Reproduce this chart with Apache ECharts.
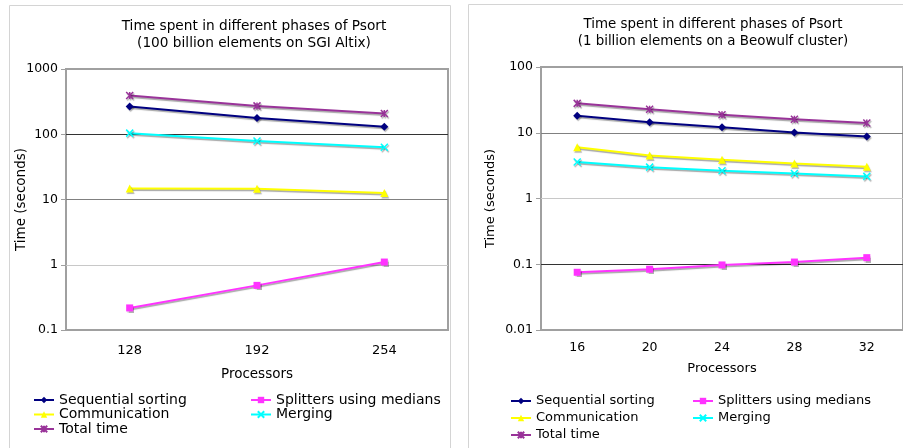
<!DOCTYPE html>
<html>
<head>
<meta charset="utf-8">
<script src="https://cdn.jsdelivr.net/npm/echarts@6/dist/echarts.min.js"></script>
<style>
html,body{margin:0;padding:0;background:#fff;}
#c{width:903px;height:448px;}
</style>
</head>
<body>
<div id="c"></div>
<script>
// ---- data ----
var procLeft = ['128', '192', '254'];
var sequentialLeft = [266, 177, 130];
var splittersLeft = [0.218, 0.483, 1.1];
var communicationLeft = [14.7, 14.6, 12.6];
var mergingLeft = [104, 79, 63];
var totalLeft = [392, 272, 208];
var yTicksLeft = ['0.1', '1', '10', '100', '1000'];

var procRight = ['16', '20', '24', '28', '32'];
var sequentialRight = [18.2, 14.5, 12.1, 10.1, 8.8];
var splittersRight = [0.0755, 0.084, 0.0976, 0.108, 0.126];
var communicationRight = [6.0, 4.5, 3.9, 3.4, 3.05];
var mergingRight = [3.6, 3.0, 2.65, 2.4, 2.17];
var totalRight = [28, 22.7, 18.8, 16, 14.1];
var yTicksRight = ['0.01', '0.1', '1', '10', '100'];

var seriesNames = ['Sequential sorting', 'Splitters using medians', 'Communication', 'Merging', 'Total time'];
var titleLeft = 'Time spent in different phases of Psort\n(100 billion elements on SGI Altix)';
var titleRight = 'Time spent in different phases of Psort\n(1 billion elements on a Beowulf cluster)';

// ---- styles ----
var FONT = 'DejaVu Sans';
var styles = {
  'Sequential sorting': {color: '#000080', symbol: 'diamond', size: 8, stroke: false},
  'Splitters using medians': {color: '#ff33ff', symbol: 'rect', size: 7, stroke: false},
  'Communication': {color: '#ffff00', symbol: 'triangle', size: 8, stroke: false},
  'Merging': {color: '#00ffff', symbol: 'path://M0,0L10,10M10,0L0,10', size: 7, stroke: true},
  'Total time': {color: '#993399', symbol: 'path://M0,0L10,10M10,0L0,10M5,0L5,10', size: 7, stroke: true}
};

function mkSeries(name, data, idx) {
  var s = styles[name];
  return {
    type: 'line', name: name, data: data,
    xAxisIndex: idx, yAxisIndex: idx,
    symbol: s.symbol, symbolSize: s.size,
    showSymbol: true, animation: false,
    lineStyle: {color: s.color, width: 2, shadowColor: 'rgba(0,0,0,0.35)', shadowOffsetX: 0.5, shadowOffsetY: 1.5, shadowBlur: 1},
    itemStyle: {color: s.color, borderColor: s.color, borderWidth: s.stroke ? 1.5 : 0,
      shadowColor: 'rgba(0,0,0,0.3)', shadowOffsetX: 1, shadowOffsetY: 1.5, shadowBlur: 1},
    emphasis: {disabled: true}
  };
}

function labelFrom(ticks) {
  return function (v) {
    for (var i = 0; i < ticks.length; i++) {
      if (Math.abs(Math.log10(v) - Math.log10(parseFloat(ticks[i]))) < 1e-6) return ticks[i];
    }
    return '';
  };
}

var leftData = [sequentialLeft, splittersLeft, communicationLeft, mergingLeft, totalLeft];
var rightData = [sequentialRight, splittersRight, communicationRight, mergingRight, totalRight];
var series = [];
seriesNames.forEach(function (n, i) { series.push(mkSeries(n, leftData[i], 0)); });
seriesNames.forEach(function (n, i) { series.push(mkSeries(n, rightData[i], 1)); });

function legend(left, top, names, fs, gap) {
  return {
    left: left, top: top, orient: 'vertical', data: names,
    itemWidth: 20, itemHeight: 8, itemGap: gap, padding: 0,
    selectedMode: false,
    textStyle: {fontFamily: FONT, fontSize: fs, color: '#000', lineHeight: 14},
    lineStyle: {shadowColor: 'rgba(0,0,0,0)', shadowBlur: 0, shadowOffsetX: 0, shadowOffsetY: 0},
    itemStyle: {shadowColor: 'rgba(0,0,0,0)', shadowBlur: 0, shadowOffsetX: 0, shadowOffsetY: 0}
  };
}

var chart = echarts.init(document.getElementById('c'), null, {renderer: 'canvas'});
chart.setOption({
  animation: false,
  backgroundColor: '#fff',
  graphic: [
    {type: 'rect', shape: {x: 9.5, y: 5.5, width: 441, height: 470}, style: {fill: 'none', stroke: '#d4d4d4', lineWidth: 1}, silent: true},
    {type: 'rect', shape: {x: 468.5, y: 4.5, width: 500, height: 470}, style: {fill: 'none', stroke: '#d4d4d4', lineWidth: 1}, silent: true}
  ],
  title: [
    {text: titleLeft, left: 254, top: 18, textAlign: 'center', padding: 0,
      textStyle: {fontFamily: FONT, fontSize: 13.7, fontWeight: 'normal', color: '#000', lineHeight: 17}},
    {text: titleRight, left: 713, top: 16, textAlign: 'center', padding: 0,
      textStyle: {fontFamily: FONT, fontSize: 13.4, fontWeight: 'normal', color: '#000', lineHeight: 17}}
  ],
  legend: [
    legend(33, 393, ['Sequential sorting', 'Communication', 'Total time'], 14, 0.5),
    legend(250, 393, ['Splitters using medians', 'Merging'], 14, 0.5),
    legend(510, 394, ['Sequential sorting', 'Communication', 'Total time'], 13, 3),
    legend(692, 394, ['Splitters using medians', 'Merging'], 13, 3)
  ],
  grid: [
    {left: 66, top: 69, width: 382, height: 261, show: true, borderColor: '#a0a0a0', borderWidth: 2, backgroundColor: 'transparent'},
    {left: 541, top: 67, width: 365, height: 263, show: true, borderColor: '#a0a0a0', borderWidth: 2, backgroundColor: 'transparent'}
  ],
  xAxis: [
    {type: 'category', gridIndex: 0, data: procLeft, boundaryGap: true,
      axisLine: {show: false}, axisTick: {show: false},
      axisLabel: {fontFamily: FONT, fontSize: 13, color: '#000', margin: 14},
      name: 'Processors', nameLocation: 'middle', nameGap: 37, nameMoveOverlap: false,
      nameTextStyle: {fontFamily: FONT, fontSize: 13.5, color: '#000'}},
    {type: 'category', gridIndex: 1, data: procRight, boundaryGap: true,
      axisLine: {show: false}, axisTick: {show: false},
      axisLabel: {fontFamily: FONT, fontSize: 12.5, color: '#000', margin: 11},
      name: 'Processors', nameLocation: 'middle', nameGap: 32, nameMoveOverlap: false,
      nameTextStyle: {fontFamily: FONT, fontSize: 13, color: '#000'}}
  ],
  yAxis: [
    {type: 'log', logBase: 10, gridIndex: 0, min: 0.1, max: 1000, splitNumber: 4,
      axisLine: {show: false},
      axisTick: {show: true, inside: false, length: 5, lineStyle: {color: '#a0a0a0'}},
      axisLabel: {fontFamily: FONT, fontSize: 12.5, color: '#000', margin: 8, formatter: labelFrom(yTicksLeft)},
      splitLine: {show: true, lineStyle: {color: ['#a0a0a0', '#c8c8c8', '#808080', '#333333', '#a0a0a0'], width: 1}},
      minorTick: {show: false}, minorSplitLine: {show: false},
      name: 'Time (seconds)', nameLocation: 'middle', nameGap: 38, nameRotate: 90, nameMoveOverlap: false,
      nameTextStyle: {fontFamily: FONT, fontSize: 13.5, color: '#000'}},
    {type: 'log', logBase: 10, gridIndex: 1, min: 0.01, max: 100, splitNumber: 4,
      axisLine: {show: false},
      axisTick: {show: true, inside: false, length: 5, lineStyle: {color: '#a0a0a0'}},
      axisLabel: {fontFamily: FONT, fontSize: 12.5, color: '#000', margin: 8, formatter: labelFrom(yTicksRight)},
      splitLine: {show: true, lineStyle: {color: ['#a0a0a0', '#333333', '#c8c8c8', '#808080', '#a0a0a0'], width: 1}},
      minorTick: {show: false}, minorSplitLine: {show: false},
      name: 'Time (seconds)', nameLocation: 'middle', nameGap: 44, nameRotate: 90, nameMoveOverlap: false,
      nameTextStyle: {fontFamily: FONT, fontSize: 13, color: '#000'}}
  ],
  series: series
});
</script>
</body>
</html>
